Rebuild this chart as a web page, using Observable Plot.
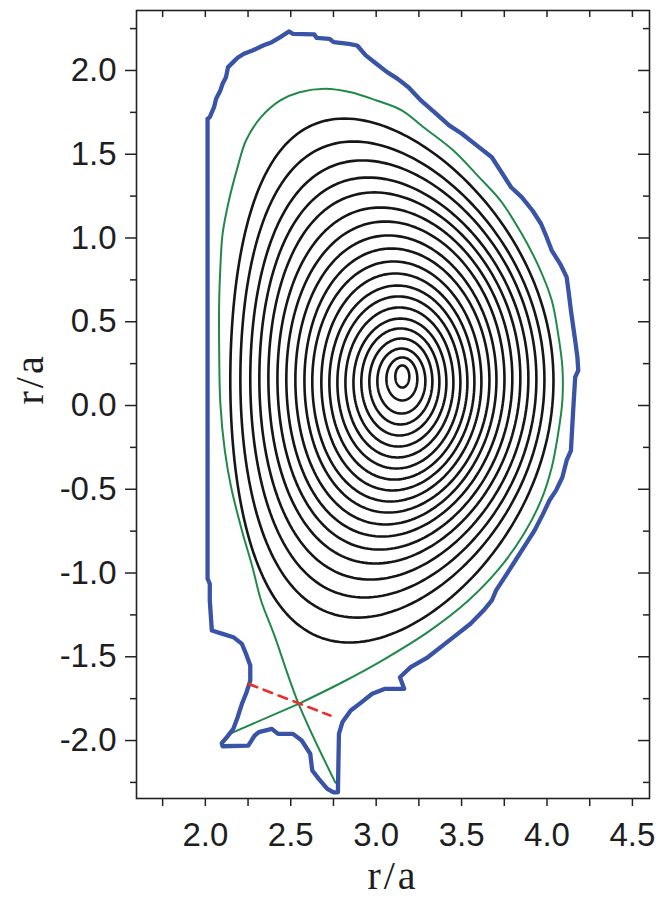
<!DOCTYPE html>
<html><head><meta charset="utf-8">
<script src="https://cdn.jsdelivr.net/npm/d3@7"></script>
<script src="https://cdn.jsdelivr.net/npm/@observablehq/plot@0.6"></script>
<style>html,body{margin:0;padding:0;background:#fff}</style>
</head><body><div id="chart"></div>
<script>
// ---- tick values ----
const xMajor = [2.0, 2.5, 3.0, 3.5, 4.0, 4.5];
const xMinor = [1.75, 2.25, 2.75, 3.25, 3.75, 4.25];
const yMajor = [-2.0, -1.5, -1.0, -0.5, 0.0, 0.5, 1.0, 1.5, 2.0];
const yMinor = [-2.25, -1.75, -1.25, -0.75, -0.25, 0.25, 0.75, 1.25, 1.75, 2.25];
const axisTitle = "r/a";

// ---- first wall (blue), [r, z] ----
const wall = [[2.013,1.712],[2.026,1.721],[2.051,1.781],[2.063,1.831],[2.088,1.881],[2.101,1.921],[2.121,1.960],[2.133,2.020],[2.163,2.050],[2.189,2.076],[2.226,2.100],[2.276,2.119],[2.338,2.149],[2.389,2.169],[2.439,2.199],[2.489,2.233],[2.513,2.219],[2.638,2.215],[2.651,2.195],[2.726,2.189],[2.751,2.169],[2.839,2.159],[2.889,2.149],[2.939,2.090],[3.001,2.040],[3.064,1.990],[3.126,1.950],[3.189,1.900],[3.265,1.818],[3.352,1.741],[3.427,1.672],[3.502,1.622],[3.577,1.562],[3.677,1.482],[3.727,1.403],[3.790,1.303],[3.852,1.244],[3.915,1.164],[3.965,1.085],[3.990,1.025],[4.028,0.925],[4.077,0.846],[4.115,0.766],[4.128,0.667],[4.140,0.567],[4.165,0.388],[4.178,0.288],[4.183,0.209],[4.165,0.169],[4.152,-0.050],[4.140,-0.269],[4.115,-0.328],[4.090,-0.428],[4.053,-0.507],[4.014,-0.567],[3.977,-0.647],[3.927,-0.746],[3.877,-0.826],[3.827,-0.906],[3.765,-1.005],[3.702,-1.104],[3.677,-1.164],[3.628,-1.224],[3.552,-1.303],[3.477,-1.363],[3.402,-1.423],[3.302,-1.503],[3.202,-1.562],[3.139,-1.622],[3.164,-1.691],[3.052,-1.691],[2.977,-1.721],[2.902,-1.781],[2.851,-1.821],[2.802,-1.891],[2.782,-1.960],[2.776,-2.309],[2.751,-2.309],[2.714,-2.288],[2.664,-2.229],[2.626,-2.179],[2.614,-2.079],[2.564,-2.000],[2.513,-1.960],[2.426,-1.960],[2.389,-1.930],[2.313,-1.950],[2.289,-1.970],[2.251,-2.030],[2.101,-2.034],[2.096,-2.016],[2.126,-1.980],[2.164,-1.930],[2.189,-1.861],[2.214,-1.781],[2.238,-1.721],[2.263,-1.642],[2.263,-1.552],[2.238,-1.482],[2.214,-1.423],[2.164,-1.383],[2.101,-1.363],[2.038,-1.343],[2.026,-1.164],[2.026,-1.064],[2.013,-1.033],[2.013,1.712]];

// ---- separatrix (green) ----
const separatrix = [[2.761,-2.251],[2.546,-1.781],[2.401,-1.363],[2.326,-1.164],[2.276,-0.965],[2.214,-0.746],[2.151,-0.488],[2.114,-0.269],[2.088,0.010],[2.081,0.328],[2.081,0.627],[2.088,0.826],[2.101,1.025],[2.138,1.224],[2.189,1.423],[2.238,1.582],[2.326,1.721],[2.439,1.821],[2.551,1.870],[2.701,1.891],[2.851,1.870],[3.002,1.821],[3.152,1.761],[3.277,1.661],[3.452,1.522],[3.602,1.363],[3.727,1.224],[3.852,1.025],[3.953,0.826],[4.028,0.627],[4.065,0.428],[4.090,0.229],[4.090,0.030],[4.065,-0.169],[4.028,-0.368],[3.965,-0.567],[3.865,-0.766],[3.727,-0.965],[3.540,-1.164],[3.302,-1.353],[3.052,-1.512],[2.802,-1.652],[2.546,-1.781]];
const separatrixLeg = [[2.546,-1.781],[2.142,-1.960]];

// ---- red dashed chord ----
const chord = [[2.254,-1.662],[2.732,-1.851]];

// ---- nested flux surfaces (black), measured extents, inner -> outer ----
const surfLeft   = [3.112,3.060,3.007,2.960,2.913,2.867,2.820,2.773,2.726,2.679,2.626,2.580,2.527,2.474,2.422,2.369,2.316,2.263,2.205,2.146];
const surfRight  = [3.194,3.241,3.288,3.329,3.370,3.411,3.452,3.493,3.534,3.575,3.616,3.663,3.704,3.751,3.797,3.844,3.891,3.938,3.985,4.038];
const surfTop    = [0.239,0.287,0.340,0.400,0.460,0.519,0.585,0.651,0.716,0.788,0.860,0.937,1.015,1.098,1.182,1.272,1.361,1.463,1.576,1.713];
const surfBottom = [0.107,0.030,-0.048,-0.113,-0.179,-0.245,-0.310,-0.376,-0.442,-0.507,-0.573,-0.639,-0.710,-0.782,-0.860,-0.943,-1.039,-1.146,-1.266,-1.415];
const surfTopR   = [3.153,3.153,3.148,3.148,3.142,3.142,3.136,3.130,3.124,3.112,3.101,3.089,3.071,3.054,3.025,2.989,2.954,2.919,2.867,2.814];
const surfBotR   = [3.153,3.153,3.148,3.142,3.136,3.130,3.124,3.118,3.107,3.095,3.083,3.071,3.054,3.036,3.019,2.995,2.966,2.931,2.890,2.843];

// build closed shaped curves from the measured extents
const surfRows = [];
surfLeft.forEach((L, k) => {
  const R = surfRight[k], T = surfTop[k], B = surfBottom[k];
  const rc = (L + R) / 2, a = (R - L) / 2, zc = (T + B) / 2;
  const clamp = v => Math.max(-1, Math.min(1, v));
  const du = Math.asin(clamp((rc - surfTopR[k]) / a));
  const dl = Math.asin(clamp((rc - surfBotR[k]) / a));
  const N = 200;
  for (let j = 0; j <= N; j++) {
    const th = 2 * Math.PI * j / N, s = Math.sin(th);
    const d = s >= 0 ? du : dl;
    const x = rc + a * Math.cos(th + d * s);
    const y = s >= 0 ? zc + (T - zc) * s : zc + (zc - B) * s;
    surfRows.push({k, x, y});
  }
});

const pts = arr => arr.map(([x, y]) => ({x, y}));
const W = 670, H = 901, mL = 136, mR = 21, mT = 10, mB = 103;
const frameW = W - mL - mR, frameH = H - mT - mB;
const ink = "#222";
const serif = "'Liberation Serif', 'Times New Roman', serif";

const chart = Plot.plot({
  width: W, height: H,
  marginLeft: mL, marginRight: mR, marginTop: mT, marginBottom: mB,
  x: {domain: [1.597, 4.6]},
  y: {domain: [-2.346, 2.358]},
  style: {fontFamily: "'Liberation Sans', Arial, sans-serif", fontSize: "32px", color: "#1e1e1e", background: "#fff"},
  marks: [
    Plot.line(surfRows, {x: "x", y: "y", z: "k", stroke: "#161616", strokeWidth: 2.6}),
    Plot.line(pts(separatrix), {x: "x", y: "y", stroke: "#20894a", strokeWidth: 2, curve: "catmull-rom"}),
    Plot.line(pts(separatrixLeg), {x: "x", y: "y", stroke: "#20894a", strokeWidth: 2}),
    Plot.line(pts(wall), {x: "x", y: "y", stroke: "#3953a6", strokeWidth: 4.3, strokeLinejoin: "round", strokeLinecap: "round"}),
    Plot.line(pts(chord), {x: "x", y: "y", stroke: "#e8302a", strokeWidth: 2.6, strokeDasharray: "9,7"}),
    Plot.frame({stroke: ink, strokeWidth: 1.6}),
    Plot.axisX([...xMajor, ...xMinor], {anchor: "bottom", tickSize: 8, tickPadding: 16, strokeWidth: 1.5, stroke: ink,
      tickFormat: d => xMajor.includes(d) ? d.toFixed(1) : "", fontSize: 33, label: null}),
    Plot.axisY(yMajor, {anchor: "left", tickSize: 11, tickPadding: 9, strokeWidth: 1.5, stroke: ink,
      tickFormat: d => d.toFixed(1), fontSize: 33, label: null}),
    Plot.axisY(yMinor, {anchor: "left", tickSize: 6, strokeWidth: 1.5, stroke: ink, tickFormat: () => "", label: null}),
    Plot.tickX([...xMajor, ...xMinor], {x: d => d, insetBottom: frameH - 7, stroke: ink, strokeWidth: 1.5}),
    Plot.tickY(yMajor, {y: d => d, insetLeft: frameW - 11, stroke: ink, strokeWidth: 1.5}),
    Plot.tickY(yMinor, {y: d => d, insetLeft: frameW - 6, stroke: ink, strokeWidth: 1.5}),
    Plot.text([axisTitle], {text: d => d, frameAnchor: "bottom", dy: 90, fontFamily: serif, fontSize: 40, fill: "#1e1e1e", style: "letter-spacing:3px"}),
    Plot.text([axisTitle], {text: d => d, frameAnchor: "left", dx: -106, rotate: -90, fontFamily: serif, fontSize: 40, fill: "#1e1e1e"})
  ]
});
// letter spacing for the axis titles (styling only)
chart.querySelectorAll("text").forEach(t => { if (t.textContent === axisTitle) t.setAttribute("letter-spacing", "3"); });
document.getElementById("chart").appendChild(chart);
</script>
</body></html>
